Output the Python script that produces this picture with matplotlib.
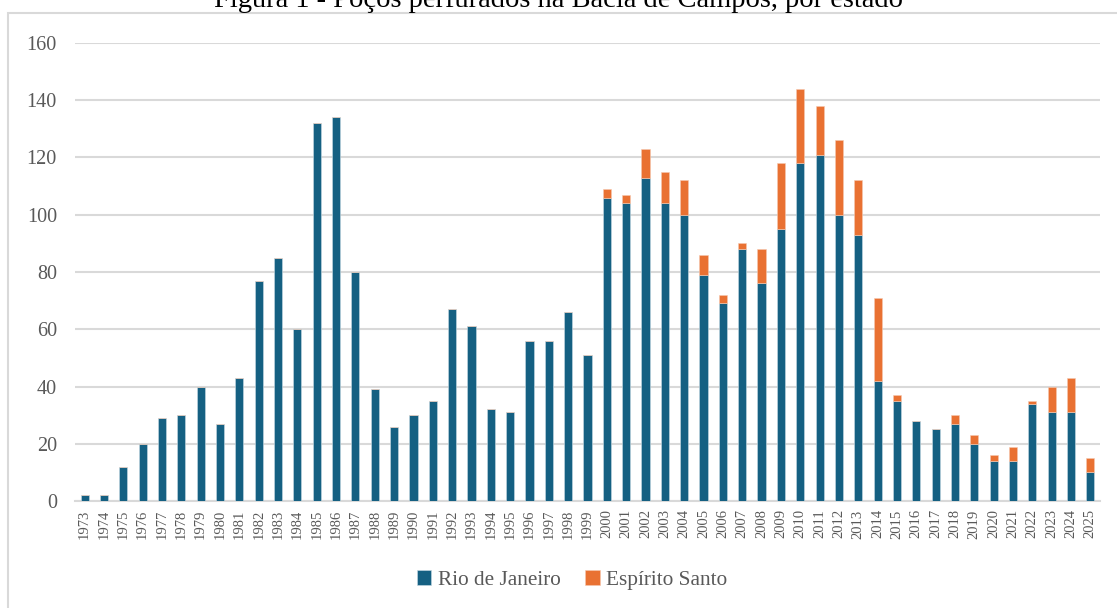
import numpy as np
import matplotlib.pyplot as plt
from matplotlib.patches import Rectangle

# data
years = list(range(1973, 2026))
rio_de_janeiro = [2, 2, 12, 20, 29, 30, 40, 27, 43, 77,
                  85, 60, 132, 134, 80, 39, 26, 30, 35, 67,
                  61, 32, 31, 56, 56, 66, 51, 106, 104, 113,
                  104, 100, 79, 69, 88, 76, 95, 118, 121, 100,
                  93, 42, 35, 28, 25, 27, 20, 14, 14, 34,
                  31, 31, 10]
espirito_santo = [0, 0, 0, 0, 0, 0, 0, 0, 0, 0,
                  0, 0, 0, 0, 0, 0, 0, 0, 0, 0,
                  0, 0, 0, 0, 0, 0, 0, 3, 3, 10,
                  11, 12, 7, 3, 2, 12, 23, 26, 17, 26,
                  19, 29, 2, 0, 0, 3, 3, 2, 5, 1,
                  9, 12, 5]
y_ticks = [0, 20, 40, 60, 80, 100, 120, 140, 160]

blue = '#156082'
orange = '#E97132'
grey_txt = '#595959'
grid_col = '#d9d9d9'

plt.rcParams['font.family'] = ['Liberation Serif', 'DejaVu Serif']

fig = plt.figure(figsize=(11.17, 6.08), dpi=100)

# outer chart frame (runs off the right and bottom edges)
fig.patches.append(Rectangle((8 / 1117, -0.05), 1.2, (608 - 13.5) / 608 + 0.05,
                             transform=fig.transFigure, fill=False,
                             edgecolor=grid_col, linewidth=1.5))

# title sits above the frame and is clipped by the top edge, as in the source
fig.text(0.5, 601 / 608, 'Figura 1 - Poços perfurados na Bacia de Campos, por estado',
         ha='center', va='baseline', fontsize=20.5, color='black')

ax = fig.add_axes([75 / 1117, 107 / 608, 1025 / 1117, 458 / 608])
x = np.arange(len(years))
w = 0.42
ax.bar(x, rio_de_janeiro, w, color=blue, edgecolor='#c9dbe4', linewidth=0.4,
       label='Rio de Janeiro', zorder=3)
ax.bar(x, espirito_santo, w, bottom=rio_de_janeiro, color=orange,
       edgecolor='#f6c8b0', linewidth=0.4, label='Espírito Santo', zorder=3)

ax.set_xlim(-0.5, len(years) - 0.5)
ax.set_ylim(0, 160)
ax.set_yticks(y_ticks)
ax.set_xticks(x)
ax.set_xticklabels([str(y) for y in years], rotation=90, fontsize=10.5, color=grey_txt)
ax.tick_params(axis='y', labelsize=14.5, labelcolor=grey_txt, length=0, pad=13)
ax.tick_params(axis='x', length=0, pad=6)
ax.yaxis.grid(True, color=grid_col, linewidth=1.5, zorder=0)
for s in ['top', 'right', 'left']:
    ax.spines[s].set_visible(False)
ax.spines['bottom'].set_color(grid_col)
ax.spines['bottom'].set_linewidth(1.5)

leg = fig.legend(loc='center', bbox_to_anchor=(572 / 1117, 28 / 608), ncol=2, frameon=False,
                 fontsize=15.3, handlelength=0.7, handleheight=0.7, handletextpad=0.3,
                 columnspacing=1.15)
for t in leg.get_texts():
    t.set_color(grey_txt)

fig.savefig('out.png', dpi=100)
